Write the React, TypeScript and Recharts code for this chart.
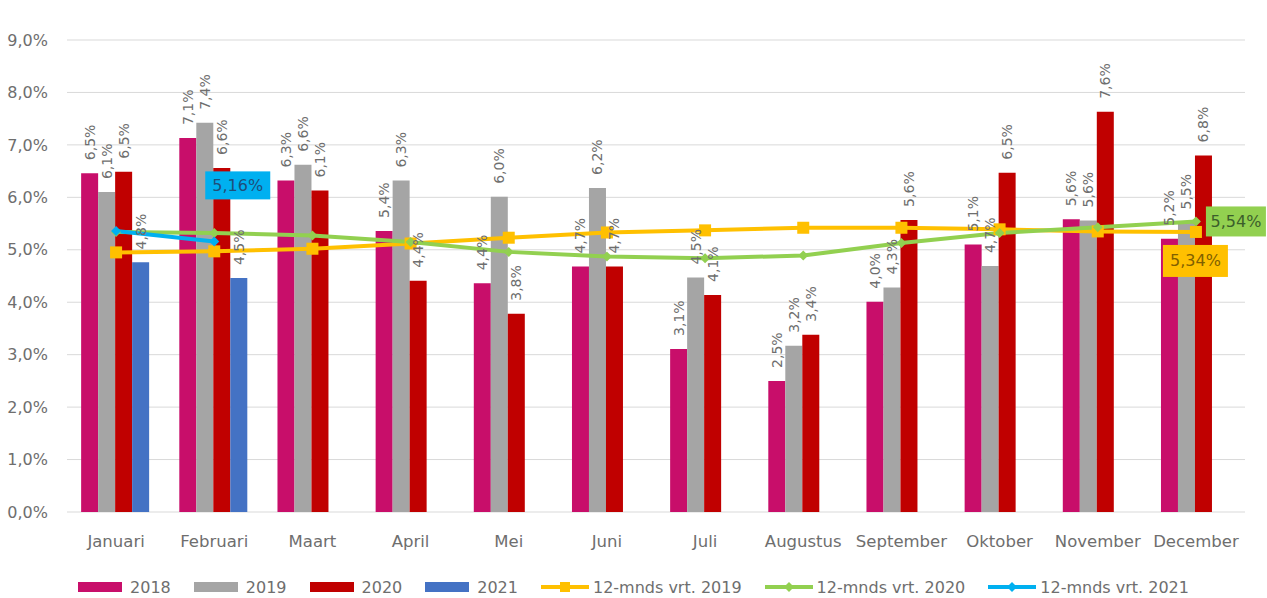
import { ComposedChart, Bar, Line, XAxis, YAxis, CartesianGrid, Legend, LabelList } from 'recharts';

const months = ['Januari', 'Februari', 'Maart', 'April', 'Mei', 'Juni', 'Juli', 'Augustus', 'September', 'Oktober', 'November', 'December'];

// maandcijfers per jaar (%)
const y2018 = [6.46, 7.13, 6.32, 5.36, 4.36, 4.68, 3.11, 2.5, 4.01, 5.1, 5.58, 5.21];
const y2019 = [6.1, 7.42, 6.62, 6.32, 6.01, 6.18, 4.47, 3.17, 4.28, 4.69, 5.56, 5.52];
const y2020 = [6.49, 6.56, 6.13, 4.41, 3.78, 4.68, 4.14, 3.38, 5.57, 6.47, 7.63, 6.8];
const y2021 = [4.76, 4.46, null, null, null, null, null, null, null, null, null, null];

// 12-maands voortschrijdend gemiddelde
const avg2019 = [4.95, 4.97, 5.02, 5.12, 5.23, 5.33, 5.37, 5.42, 5.42, 5.39, 5.35, 5.34];
const avg2020 = [5.34, 5.32, 5.27, 5.15, 4.96, 4.87, 4.84, 4.89, 5.13, 5.32, 5.43, 5.54];
const avg2021 = [5.36, 5.16, null, null, null, null, null, null, null, null, null, null];

const yTicks = [0, 1, 2, 3, 4, 5, 6, 7, 8, 9];

const C18 = '#C80E6A';
const C19 = '#A5A5A5';
const C20 = '#C00000';
const C21 = '#4472C4';
const CA19 = '#FFC000';
const CA20 = '#92D050';
const CA21 = '#00B0F0';

const FONT = '"DejaVu Sans", sans-serif';
const TXT = '#6E6E6E';

const data = months.map((m, i) => ({
  month: m,
  y2018: y2018[i],
  y2019: y2019[i],
  y2020: y2020[i],
  y2021: y2021[i],
  avg2019: avg2019[i],
  avg2020: avg2020[i],
  avg2021: avg2021[i],
}));

const pct1 = (v: number) => v.toFixed(1).replace('.', ',') + '%';
const pct2 = (v: number) => v.toFixed(2).replace('.', ',') + '%';

const BarLabel = (props: any) => {
  const { x, y, width, value } = props;
  if (value == null) return null;
  const cx = x + width / 2;
  const ty = y - 13;
  return (
    <text x={cx} y={ty} transform={`rotate(-90 ${cx} ${ty})`} textAnchor="start" dominantBaseline="central"
      fontSize={14} fill={TXT} fontFamily={FONT}>
      {pct1(value)}
    </text>
  );
};

const boxLabel = (idx: number, dx: number, dy: number, w: number, h: number, bg: string, color: string) => (props: any) => {
  const { x, y, value, index } = props;
  if (index !== idx || value == null) return null;
  return (
    <g>
      <rect x={x + dx} y={y + dy} width={w} height={h} fill={bg} />
      <text x={x + dx + w / 2} y={y + dy + h / 2} textAnchor="middle" dominantBaseline="central"
        fontSize={16} fill={color} fontFamily={FONT}>
        {pct2(value)}
      </text>
    </g>
  );
};

const SquareDot = (props: any) => {
  const { cx, cy, index } = props;
  if (cx == null || cy == null) return <g key={`s${index}`} />;
  return <rect key={`s${index}`} x={cx - 6} y={cy - 6} width={12} height={12} fill={CA19} />;
};

const diamondDot = (color: string, r: number) => (props: any) => {
  const { cx, cy, index, value } = props;
  if (cx == null || cy == null || value == null) return <g key={`d${index}`} />;
  return <path key={`d${index}`} d={`M${cx},${cy - r}L${cx + r},${cy}L${cx},${cy + r}L${cx - r},${cy}Z`} fill={color} />;
};

const legendItems = [
  { label: '2018', color: C18, type: 'bar' },
  { label: '2019', color: C19, type: 'bar' },
  { label: '2020', color: C20, type: 'bar' },
  { label: '2021', color: C21, type: 'bar' },
  { label: '12-mnds vrt. 2019', color: CA19, type: 'square' },
  { label: '12-mnds vrt. 2020', color: CA20, type: 'diamond' },
  { label: '12-mnds vrt. 2021', color: CA21, type: 'diamond' },
];

const renderLegend = () => (
  <div style={{ display: 'flex', justifyContent: 'center', alignItems: 'center', height: 20, width: 1267, fontFamily: FONT, fontSize: 16, color: TXT }}>
    {legendItems.map((it, i) => (
      <div key={it.label} style={{ display: 'flex', alignItems: 'center', marginLeft: i === 0 ? 0 : 23 }}>
        <svg width={48} height={14} style={{ marginRight: 4 }}>
          {it.type === 'bar' && <rect x={0} y={2} width={44} height={10} fill={it.color} />}
          {it.type !== 'bar' && <line x1={0} y1={7} x2={48} y2={7} stroke={it.color} strokeWidth={4} />}
          {it.type === 'square' && <rect x={19} y={2} width={10} height={10} fill={it.color} />}
          {it.type === 'diamond' && <path d="M24,2L29,7L24,12L19,7Z" fill={it.color} />}
        </svg>
        <span>{it.label}</span>
      </div>
    ))}
  </div>
);

export default function App() {
  return (
    <div style={{ position: 'absolute', left: 0, top: 0, background: '#fff' }}>
      <ComposedChart width={1267} height={598} data={data} barGap={0} barCategoryGap="14.4%"
        margin={{ top: 40, right: 22, bottom: 1, left: 0 }} style={{ fontFamily: FONT }}>
        <CartesianGrid vertical={false} stroke="#D9D9D9" />
        <XAxis dataKey="month" axisLine={false} tickLine={false} tickSize={0} tickMargin={23} height={65}
          interval={0} tick={{ fontSize: 16.5, fill: TXT, fontFamily: FONT }} />
        <YAxis domain={[0, 9]} ticks={yTicks} axisLine={false} tickLine={false} tickSize={0} tickMargin={19} width={67}
          tickFormatter={(v: number) => pct1(v)} tick={{ fontSize: 16, fill: TXT, fontFamily: FONT }} />
        <Legend verticalAlign="bottom" height={20} content={renderLegend} wrapperStyle={{ left: 0, width: 1267 }} />
        <Bar dataKey="y2018" fill={C18} isAnimationActive={false}>
          <LabelList dataKey="y2018" content={BarLabel} />
        </Bar>
        <Bar dataKey="y2019" fill={C19} isAnimationActive={false}>
          <LabelList dataKey="y2019" content={BarLabel} />
        </Bar>
        <Bar dataKey="y2020" fill={C20} isAnimationActive={false}>
          <LabelList dataKey="y2020" content={BarLabel} />
        </Bar>
        <Bar dataKey="y2021" fill={C21} isAnimationActive={false}>
          <LabelList dataKey="y2021" content={BarLabel} />
        </Bar>
        <Line dataKey="avg2019" type="linear" stroke={CA19} strokeWidth={4} dot={SquareDot} activeDot={false} isAnimationActive={false}>
          <LabelList dataKey="avg2019" content={boxLabel(11, -33, 13, 65, 32, CA19, '#7F6000')} />
        </Line>
        <Line dataKey="avg2020" type="linear" stroke={CA20} strokeWidth={4} dot={diamondDot(CA20, 5)} activeDot={false} isAnimationActive={false}>
          <LabelList dataKey="avg2020" content={boxLabel(11, 10, -15, 60, 30, CA20, '#3B5E2B')} />
        </Line>
        <Line dataKey="avg2021" type="linear" stroke={CA21} strokeWidth={4} dot={diamondDot(CA21, 5)} activeDot={false} isAnimationActive={false}>
          <LabelList dataKey="avg2021" content={boxLabel(1, -9, -70, 65, 28, CA21, '#1F4E79')} />
        </Line>
      </ComposedChart>
    </div>
  );
}
